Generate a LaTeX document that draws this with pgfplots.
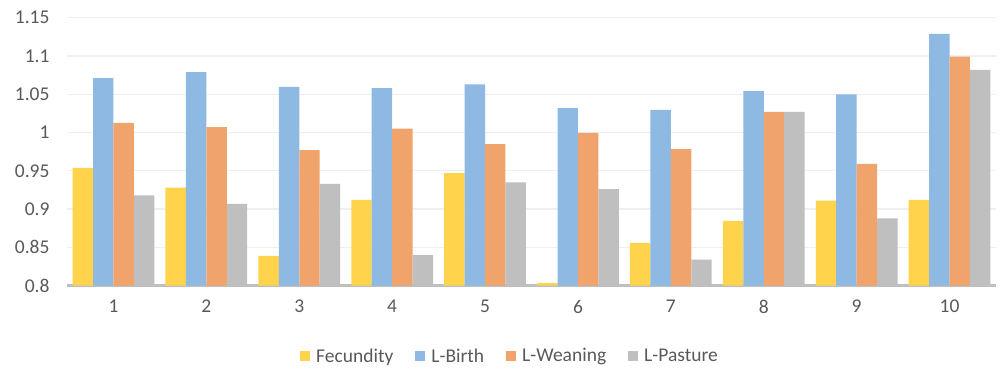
\documentclass[border=0pt]{standalone}
\usepackage{fontspec}
\setmainfont{Carlito}
\usepackage{pgfplots}
\pgfplotsset{compat=1.18}
\definecolor{cFec}{HTML}{FFD34B}
\definecolor{cBirth}{HTML}{8DB9E2}
\definecolor{cWean}{HTML}{F0A46C}
\definecolor{cPast}{HTML}{BFBFBF}
\definecolor{txt}{HTML}{595959}
\definecolor{gridc}{HTML}{EFEFEF}

\begin{document}
\begin{tikzpicture}
\pgfplotsset{
  sq legend/.style={legend image code/.code={\fill[##1,draw=none] (0bp,-5bp) rectangle (10bp,5bp);}},
}
\begin{axis}[
    scale only axis,
    width=929bp, height=268bp,
    at={(0,0)}, anchor=south west,
    ybar, bar width=0.22,
    xmin=0.5, xmax=10.5,
    ymin=0.8, ymax=1.15,
    xtick={1,...,10},
    ytick={0.8,0.85,...,1.16},
    major tick length=0pt,
    axis x line*=bottom, axis y line*=left,
    x axis line style={draw=cPast, line width=2.6bp},
    y axis line style={draw=none},
    ymajorgrids,
    grid style={draw=gridc, line width=1.3bp},
    font=\fontsize{19.5bp}{23bp}\selectfont,
    tick label style={text=txt},
    /pgf/number format/assume math mode=true,
    xticklabel style={yshift=-11bp},
    yticklabel style={xshift=-14bp},
    legend style={at={(0.479,0)}, anchor=center, yshift=-70.3bp,
        draw=none, fill=none, legend columns=-1, text=txt,
        /tikz/every even column/.append style={column sep=16bp},
        nodes={inner xsep=6bp}},
]
\addplot[fill=cFec, draw=none, bar shift=-0.33, sq legend] coordinates {
(1,0.954) (2,0.928) (3,0.839) (4,0.912) (5,0.947) (6,0.8035) (7,0.856) (8,0.8845) (9,0.911) (10,0.912)};
\addlegendentry{Fecundity}
\addplot[fill=cBirth, draw=none, bar shift=-0.11, sq legend] coordinates {
(1,1.071) (2,1.079) (3,1.0595) (4,1.058) (5,1.063) (6,1.032) (7,1.0295) (8,1.054) (9,1.050) (10,1.129)};
\addlegendentry{L-Birth}
\addplot[fill=cWean, draw=none, bar shift=0.11, sq legend] coordinates {
(1,1.0125) (2,1.007) (3,0.977) (4,1.005) (5,0.985) (6,0.9995) (7,0.9785) (8,1.027) (9,0.959) (10,1.099)};
\addlegendentry{L-Weaning}
\addplot[fill=cPast, draw=none, bar shift=0.33, sq legend] coordinates {
(1,0.918) (2,0.907) (3,0.933) (4,0.840) (5,0.935) (6,0.926) (7,0.834) (8,1.027) (9,0.888) (10,1.082)};
\addlegendentry{L-Pasture}
\end{axis}
\useasboundingbox (-67bp,-92.3bp) rectangle (940bp,285.7bp);
\end{tikzpicture}
\end{document}
